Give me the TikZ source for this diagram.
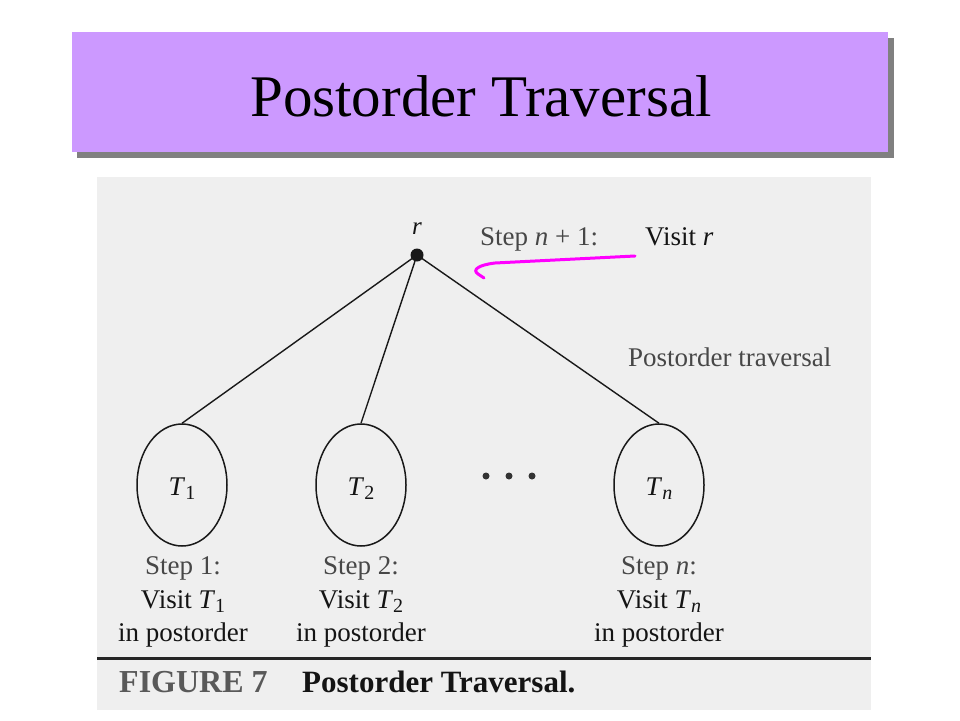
\documentclass[tikz,border=0pt]{standalone}
\usepackage{fontspec}
\setmainfont{Liberation Serif}
\usetikzlibrary{shapes.geometric}
\begin{document}
\begin{tikzpicture}[x=1pt,y=-1pt,
  lbl/.style={inner sep=0pt, font=\fontsize{27}{29}\selectfont, text=black!92},
  steplbl/.style={lbl, text=black!72},
  subtree/.style={draw=black!90, line width=1.5pt, ellipse, minimum width=90pt, minimum height=122pt, inner sep=0pt},
  edge/.style={draw=black!90, line width=1.4pt}]
\definecolor{titlebg}{HTML}{CC99FF}
\definecolor{photobg}{HTML}{EFEFEF}
\definecolor{pen}{HTML}{FF00FF}
\useasboundingbox[fill=white] (0,0) rectangle (960,720);
% title
\fill[black!50] (77,38) rectangle (894,158);
\fill[titlebg] (72,32) rectangle (888,152);
\node[font=\fontsize{59}{62}\selectfont, anchor=base] (title) at (481,116) {Postorder Traversal};
% photo background
\fill[photobg] (97,177) rectangle (871,710);
% tree
\node[circle, fill=black!90, minimum size=13pt, inner sep=0pt] (r) at (417,255) {};
\node[lbl, font=\fontsize{25}{27}\selectfont\itshape, anchor=base] (rl) at (417,234) {r};
\node[subtree] (t1) at (182,485) {};
\node[subtree] (t2) at (361,485) {};
\node[subtree] (tn) at (659,485) {};
\node[lbl, anchor=base] (t1l) at (182,495) {\textit{T}\raisebox{-0.4ex}{\fontsize{20}{22}\selectfont 1}};
\node[lbl, anchor=base] (t2l) at (361,495) {\textit{T}\raisebox{-0.4ex}{\fontsize{20}{22}\selectfont 2}};
\node[lbl, anchor=base] (tnl) at (659,495) {\textit{T}\raisebox{-0.4ex}{\fontsize{20}{22}\selectfont\itshape n}};
\draw[edge] (r.center) -- (t1.north);
\draw[edge] (r.center) -- (t2.north);
\draw[edge] (r.center) -- (tn.north);
\foreach \x [count=\i] in {486,509,532} {
  \node[circle, fill=black!80, minimum size=7pt, inner sep=0pt] (dot\i) at (\x,476) {};
}
% labels top
\node[steplbl, anchor=base west] (sn1) at (480,245) {Step \textit{n} + 1:};
\node[lbl, anchor=base west] (vr) at (645,245) {Visit \textit{r}};
\node[steplbl, anchor=base west] (pt) at (628,366) {Postorder traversal};
% labels bottom
\foreach \c/\s/\t in {183/1/1, 361/2/2, 659/{\textit{n}}/{\textit{n}}} {
  \node[steplbl, anchor=base] at (\c,574) {Step \s:};
  \node[lbl, anchor=base] at (\c,608) {Visit \textit{T}\raisebox{-0.4ex}{\fontsize{20}{22}\selectfont \t}};
  \node[lbl, anchor=base] at (\c,641) {in postorder};
}
% rule and caption
\draw[black!85, line width=3pt] (97,658) -- (871,658);
\node[anchor=base west, inner sep=0pt, font=\fontsize{32}{34}\selectfont\bfseries, text=black!65] (fig) at (119,692) {FIGURE 7};
\node[anchor=base west, inner sep=0pt, font=\fontsize{31}{33}\selectfont\bfseries, text=black!92] (cap) at (302,692) {Postorder Traversal.};
% magenta pen stroke
\draw[pen, line width=3pt, line cap=round] (635,256) -- (495,263) .. controls (478,265) and (472,270) .. (478,274) -- (484,278);
\end{tikzpicture}
\end{document}
